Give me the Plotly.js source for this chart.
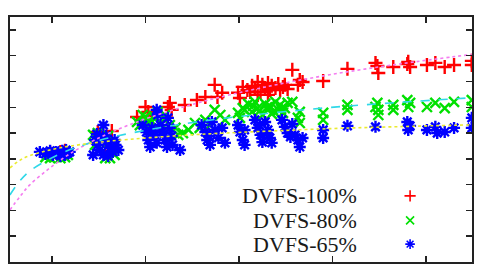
<!DOCTYPE html>
<html>
<head>
<meta charset="utf-8">
<script src="https://cdn.plot.ly/plotly-3.0.1.min.js"></script>
<style>
  html, body { margin: 0; padding: 0; background: #fff; }
  #chart { width: 478px; height: 272px; }
</style>
</head>
<body>
<div id="chart"></div>
<script>
// Series labels
const seriesNames = ['DVFS-100%', 'DVFS-80%', 'DVFS-65%'];

// DVFS-100% measurements
const x100 = [0.98,1.09,1.14,1.49,1.64,1.57,1.91,2.00,2.03,2.07,2.24,2.28,2.26,2.42,2.55,2.64,2.74,2.77,2.82,2.99,3.04,3.01,3.09,3.12,3.14,3.17,3.20,3.23,3.25,3.28,3.31,3.33,3.35,3.39,3.42,3.44,3.47,3.49,3.52,3.20,3.31,3.57,3.65,3.63,3.68,3.90,4.16,4.48,4.49,4.46,4.65,4.80,4.83,4.81,5.01,5.10,5.20,5.30,5.49,5.49];
const y100 = [4.23,4.27,4.31,5.04,5.08,4.54,5.62,6.01,5.82,5.66,6.01,5.90,6.17,6.09,6.28,6.40,6.87,6.40,6.56,6.56,6.79,6.36,6.67,6.59,6.83,6.75,6.98,6.59,6.87,6.75,6.94,6.67,6.83,6.75,6.90,6.67,6.79,6.87,6.71,6.48,6.48,7.45,7.06,6.87,6.98,7.02,7.49,7.60,7.33,7.72,7.56,7.68,7.56,7.76,7.64,7.72,7.56,7.64,7.80,7.64];

// DVFS-80% measurements
const x80 = [0.93,0.98,1.03,1.09,1.14,1.17,1.44,1.49,1.55,1.60,1.46,1.51,1.62,1.67,1.57,1.91,1.94,2.00,2.05,2.07,2.10,2.13,2.16,2.21,2.26,2.32,2.35,2.40,2.46,2.53,2.58,2.64,2.69,2.74,2.80,2.85,2.99,3.04,3.01,3.06,3.10,3.14,3.17,3.20,3.25,3.28,3.31,3.33,3.35,3.39,3.42,3.44,3.47,3.49,3.52,3.57,3.65,3.63,3.65,3.90,3.90,4.16,4.16,4.48,4.49,4.49,4.46,4.65,4.65,4.80,4.81,4.83,5.01,5.10,5.20,5.30,5.49,5.49,3.15,3.22,3.30,3.37,3.45,1.97,2.03,2.09,2.15];
const y80 = [4.07,4.03,4.07,4.03,4.07,4.15,4.93,5.00,4.81,4.89,4.54,4.34,4.03,4.15,4.03,5.43,5.31,5.62,5.51,5.43,5.59,5.82,5.12,5.70,5.31,5.20,4.93,5.00,5.12,5.39,5.20,5.51,5.31,5.90,5.70,5.51,5.78,5.97,5.59,5.90,6.13,5.82,6.21,5.97,5.70,6.13,5.90,6.05,5.74,6.21,5.90,6.09,5.78,5.97,6.17,6.21,5.82,5.59,5.39,5.78,5.51,6.09,5.90,6.17,5.90,5.70,6.01,6.09,5.90,6.28,6.01,6.17,6.01,6.17,5.97,6.21,6.01,6.28,6.05,5.86,6.00,5.84,5.94,5.70,5.40,5.66,5.36];

// DVFS-65% measurements
const x65 = [0.87,0.93,0.96,0.98,1.01,1.04,1.08,1.09,1.11,1.14,1.15,1.17,1.19,1.55,1.51,1.46,1.49,1.51,1.55,1.58,1.62,1.65,1.67,1.68,1.71,1.44,1.60,1.97,2.01,2.03,2.05,2.07,2.10,2.12,2.12,2.13,2.16,2.18,2.21,2.23,2.24,2.26,2.28,2.29,2.37,2.60,2.64,2.66,2.69,2.71,2.74,2.78,2.82,2.85,2.99,3.01,3.04,3.06,3.06,3.17,3.20,3.23,3.25,3.28,3.31,3.33,3.35,3.46,3.49,3.52,3.55,3.57,3.60,3.63,3.65,3.68,3.90,3.90,4.16,4.46,4.80,4.81,4.83,5.01,5.10,5.12,5.20,5.30,5.49,5.49,1.00,1.06,1.12,1.48,1.58,1.66,2.08,2.20,2.68,3.22,3.30];
const y65 = [4.27,4.19,4.23,4.31,4.15,4.27,4.19,4.11,4.31,4.15,4.34,4.23,4.27,5.31,4.85,4.73,4.54,4.34,4.15,4.65,4.42,4.27,4.73,4.54,4.34,4.15,4.11,5.31,5.04,4.73,4.46,5.20,4.93,4.62,5.90,5.70,5.31,5.04,4.73,4.46,5.59,5.20,4.89,4.54,4.34,5.31,5.04,4.73,4.54,5.43,5.12,4.81,5.20,4.62,5.31,5.04,4.73,4.54,5.12,5.51,5.20,4.93,4.65,5.43,5.12,4.81,4.62,5.51,5.24,5.00,4.85,5.35,4.93,4.73,4.46,4.81,5.12,4.81,5.28,5.24,5.43,5.12,5.28,5.12,5.24,5.00,5.04,5.20,5.59,5.20,4.21,4.25,4.20,4.96,4.90,4.45,5.08,4.98,4.88,5.30,4.98];

// Fitted trend curves, sampled along x
const fitX = [0.55,0.66,0.76,0.93,1.09,1.30,1.62,2.05,2.58,3.22,3.97,4.72,5.49];
const fit100 = [2.02,2.55,2.98,3.51,3.95,4.43,5.01,5.61,6.19,6.74,7.26,7.68,8.05];
const fit80 = [2.60,3.16,3.52,3.91,4.20,4.49,4.82,5.14,5.45,5.73,5.99,6.19,6.37];
const fit65 = [3.65,3.95,4.12,4.30,4.43,4.55,4.69,4.82,4.95,5.06,5.17,5.25,5.32];

// Key rows (fraction of plot height) for the hand-placed legend
const keyRows = [0.270, 0.170, 0.073];

const RED = '#ff0000', GREEN = '#00e000', BLUE = '#0000ff';

function pts(x, y, symbol, color) {
  return {
    type: 'scatter', mode: 'markers', x: x, y: y, showlegend: false,
    marker: { symbol: symbol, size: 10, color: color, line: { width: 2.4, color: color } }
  };
}
function fit(y, color, dash) {
  return {
    type: 'scatter', mode: 'lines', x: fitX, y: y, showlegend: false,
    line: { color: color, width: 1.6, dash: dash, shape: 'spline' }
  };
}
function key(row, symbol, color) {
  return {
    type: 'scatter', mode: 'markers', x: [0.866], y: [keyRows[row]],
    xaxis: 'x2', yaxis: 'y2', showlegend: false, hoverinfo: 'skip',
    marker: { symbol: symbol, size: 8, color: color, line: { width: 1.6, color: color } }
  };
}

const data = [
  pts(x100, y100, 'cross-thin', RED),
  pts(x80, y80, 'x-thin', GREEN),
  pts(x65, y65, 'asterisk', BLUE),
  fit(fit100, '#f47cf0', 'dot'),
  fit(fit80, '#30d8e8', 'dash'),
  fit(fit65, '#eaea30', 'dot'),
  key(0, 'cross-thin', RED),
  key(1, 'x-thin', GREEN),
  key(2, 'asterisk', BLUE)
];

const axisCommon = {
  showgrid: false, zeroline: false, showticklabels: false,
  showline: true, linewidth: 2, linecolor: '#222', mirror: 'ticks',
  ticks: 'inside', ticklen: 6, tickwidth: 1.5, tickcolor: '#222'
};

const layout = {
  width: 478, height: 272,
  margin: { l: 10, r: 6, t: 17, b: 10 },
  paper_bgcolor: '#fff', plot_bgcolor: '#fff',
  xaxis: Object.assign({}, axisCommon, { range: [0.551, 5.492], tickvals: [1, 2, 3, 4, 5] }),
  yaxis: Object.assign({}, axisCommon, { range: [0, 9.5], tickvals: [1, 2, 3, 4, 5, 6, 7, 8, 9] }),
  xaxis2: { overlaying: 'x', range: [0, 1], visible: false, anchor: 'y2' },
  yaxis2: { overlaying: 'y', range: [0, 1], visible: false, anchor: 'x2' },
  annotations: seriesNames.map((name, i) => ({
    text: name, xref: 'x2', yref: 'y2', x: 0.756, y: keyRows[i],
    xanchor: 'right', yanchor: 'middle', showarrow: false,
    font: { family: 'Liberation Serif, Times New Roman, serif', size: 22, color: '#1a1a1a' }
  })),
  showlegend: false
};

Plotly.newPlot('chart', data, layout, { staticPlot: true, displayModeBar: false });
</script>
</body>
</html>
